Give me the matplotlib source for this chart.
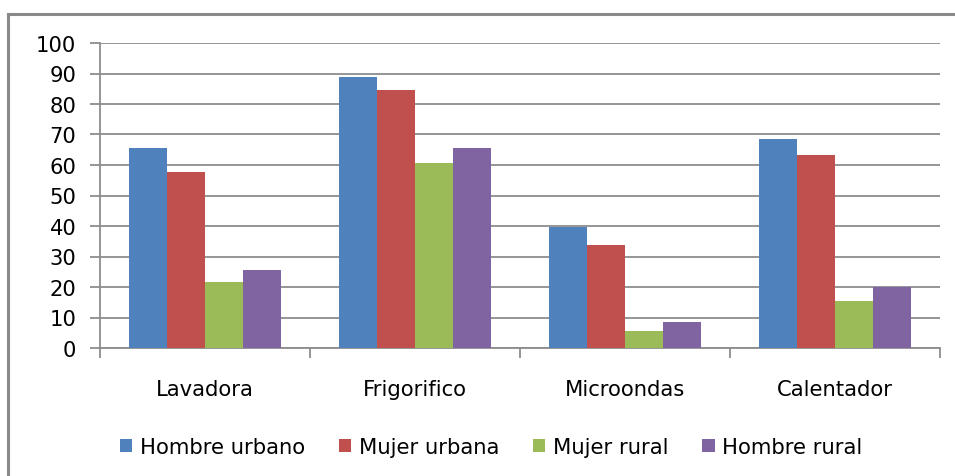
import matplotlib.pyplot as plt
import numpy as np
from matplotlib.lines import Line2D
from matplotlib.patches import Patch

plt.rcParams['font.family'] = ['DejaVu Sans']

categories = ['Lavadora', 'Frigorifico', 'Microondas', 'Calentador']
series = ['Hombre urbano', 'Mujer urbana', 'Mujer rural', 'Hombre rural']
hombre_urbano = [65.7, 88.8, 39.8, 68.4]
mujer_urbana = [57.6, 84.7, 33.8, 63.4]
mujer_rural = [21.5, 60.6, 5.5, 15.5]
hombre_rural = [25.7, 65.7, 8.4, 19.9]
colors = ['#4F81BD', '#C0504D', '#9BBB59', '#8064A2']
yticks = list(range(0, 101, 10))

W, H = 955, 477
fig = plt.figure(figsize=(W / 100, H / 100), dpi=100)
ax = fig.add_axes([100 / W, 1 - 349 / H, 840 / W, 305 / H])

grid_c = '#8c8c8c'
fs = 15.2
x = np.arange(len(categories))
bw = 0.181
for k, (vals, c) in enumerate(zip([hombre_urbano, mujer_urbana, mujer_rural, hombre_rural], colors)):
    ax.bar(x + (k - 1.5) * bw, vals, width=bw, color=c, zorder=3, linewidth=0)

ax.set_ylim(0, 100)
ax.set_xlim(-0.5, len(categories) - 0.5)
ax.set_yticks(yticks)
ax.set_yticklabels([str(v) for v in yticks], fontsize=fs)
ax.yaxis.grid(True, color=grid_c, linewidth=1.3, zorder=0)
ax.set_axisbelow(True)

# category boundaries get tick marks, labels sit on minor ticks
ax.set_xticks(np.arange(-0.5, len(categories), 1.0))
ax.set_xticklabels([])
ax.set_xticks(x, minor=True)
ax.set_xticklabels(categories, minor=True, fontsize=fs)
ax.tick_params(axis='x', which='minor', length=0, pad=22)
ax.tick_params(axis='x', which='major', length=7, color=grid_c, width=1.3)
ax.tick_params(axis='y', length=7, color=grid_c, width=1.3, pad=10)

for s in ['top', 'right']:
    ax.spines[s].set_visible(False)
for s in ['left', 'bottom']:
    ax.spines[s].set_color(grid_c)
    ax.spines[s].set_linewidth(1.3)

# outer chart border (left and top only)
fig.add_artist(Line2D([8 / W, 8 / W], [0, 1 - 15 / H], color='#8a8a8a', linewidth=2.2))
fig.add_artist(Line2D([8 / W, 1], [1 - 15 / H, 1 - 15 / H], color='#8a8a8a', linewidth=2.2))

handles = [Patch(facecolor=c, edgecolor='none') for c in colors]
fig.legend(handles, series, loc='center', bbox_to_anchor=(491 / W, 1 - 448 / H),
           ncol=4, frameon=False, fontsize=fs, handlelength=0.6, handleheight=0.6,
           handletextpad=0.35, columnspacing=1.6)

fig.savefig('out.png', dpi=100)
